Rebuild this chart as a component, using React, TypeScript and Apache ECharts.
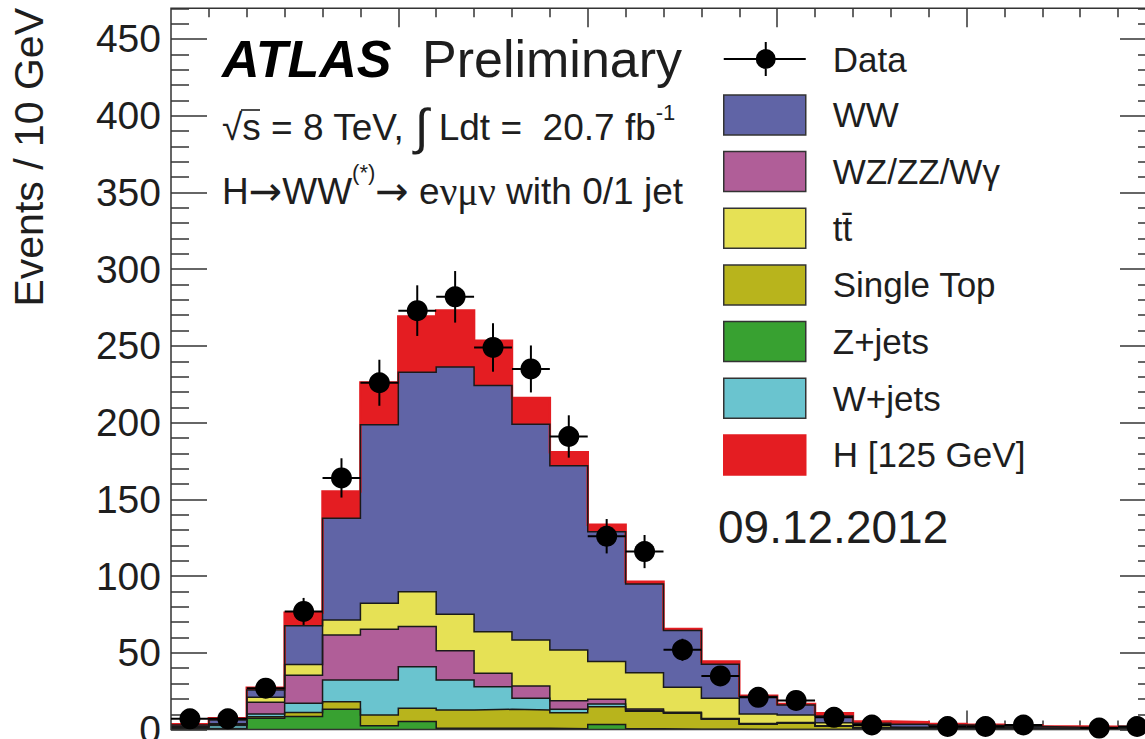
import React, { useEffect, useRef } from 'react';
import * as echarts from 'echarts';

// Bin edges in GeV (Events / 10 GeV)
const binEdges = [40, 50, 60, 70, 80, 90, 100, 110, 120, 130, 140, 150, 160, 170, 180, 190, 200, 210, 220, 230, 240, 250, 260, 270, 280, 290, 300];

// Per-bin contributions of each process (stacked bottom -> top)
const zJets = [0.5, 0.5, 7.4, 8.5, 13.3, 2.5, 5.2, 0.8, 0.8, 0.8, 0.5, 3.4, 0.5, 0.3, 0.2, 0.1, 0.1, 0.1, 0, 0, 0, 0, 0, 0, 0, 0];
const singleTop = [0.2, 0.2, 1.0, 2.6, 4.9, 7.0, 8.7, 12.0, 12.4, 12.0, 10.5, 11.5, 11.5, 10.3, 6.5, 3.4, 4.0, 2.1, 1.0, 0.6, 0.5, 0.4, 0.3, 0.2, 0.2, 0.1];
const wJets = [0.5, 1.9, 1.8, 6.0, 14.1, 22.8, 27.1, 19.5, 14.8, 7.6, 2.2, 1.8, 0.5, 0.3, 0.2, 0.2, 0.2, 0.1, 0.1, 0.1, 0.1, 0.1, 0.1, 0.1, 0.1, 0.1];
const diboson = [0.5, 0.6, 7.6, 18.3, 29.4, 33.1, 26.1, 19.1, 8.7, 8.0, 5.6, 3.1, 1.0, 0.4, 0.3, 0.3, 0.3, 0.2, 0.2, 0.2, 0.2, 0.2, 0.2, 0.1, 0.1, 0.1];
const ttbar = [0.3, 0.6, 3.3, 7.0, 9.7, 16.9, 22.8, 23.8, 27.1, 30.0, 33.1, 24.5, 23.6, 16.3, 13.2, 6.2, 4.9, 2.0, 1.3, 0.6, 0.6, 0.5, 0.4, 0.4, 0.3, 0.3];
const ww = [1.0, 2.4, 4.7, 25.3, 66.3, 116.3, 143.0, 161.0, 160.4, 140.6, 120.1, 84.7, 57.8, 37.0, 22.2, 11.3, 6.6, 4.4, 1.5, 2.0, 1.6, 1.4, 1.0, 0.8, 0.7, 0.6];
const higgs = [0.5, 1.2, 1.5, 8.5, 17.4, 27.6, 36.3, 36.9, 29.1, 17.0, 8.8, 4.4, 1.5, 1.0, 1.7, 0.6, 0.6, 1.7, 1.1, 1.3, 0.7, 0.6, 0.6, 0.4, 0.4, 0.4];

// Observed data and its error bars
const dataCounts = [7, 7, 27, 77, 164, 226, 273, 282, 249, 235, 191, 126, 116, 52, 35, 21, 19, 8, 3, 0, 2, 2, 3, 0, 1, 2];
const dataErrors = [2.6, 2.6, 5.2, 8.8, 12.8, 15.0, 16.5, 16.8, 15.8, 15.3, 13.8, 11.2, 10.8, 7.2, 5.9, 4.6, 4.4, 2.8, 1.7, 0, 1.4, 1.4, 1.7, 0, 1.0, 1.4];

// Axis ticks
const yMajorTicks = [0, 50, 100, 150, 200, 250, 300, 350, 400, 450];
const yMinorTicks = [10, 20, 30, 40, 60, 70, 80, 90, 110, 120, 130, 140, 160, 170, 180, 190, 210, 220, 230, 240, 260, 270, 280, 290, 310, 320, 330, 340, 360, 370, 380, 390, 410, 420, 430, 440, 460, 470];
const xMajorTicks = [100, 150, 200, 250];
const xMinorTicks = [50, 60, 70, 80, 90, 110, 120, 130, 140, 160, 170, 180, 190, 210, 220, 230, 240, 260, 270, 280, 290];

const FONT = "'Liberation Sans', Arial, Helvetica, sans-serif";
const SERIF = "'Liberation Serif', 'Times New Roman', serif";
const ARROW_FONT = "'DejaVu Sans', sans-serif";
const TEXT = '#1e1e1e';
const TICK = '#333';
const HIGGS_RED = '#e41d22';

const stackOrder = [
  { name: 'Z+jets', values: zJets, color: '#38a131' },
  { name: 'Single Top', values: singleTop, color: '#b8b41c' },
  { name: 'W+jets', values: wJets, color: '#6ac4cf' },
  { name: 'WZ/ZZ/W\u03b3', values: diboson, color: '#b05e98' },
  { name: 'tt\u0304', values: ttbar, color: '#e6e155' },
  { name: 'WW', values: ww, color: '#6064a6' },
  { name: 'H [125 GeV]', values: higgs, color: HIGGS_RED },
];

const legendOrder = ['Data', 'WW', 'WZ/ZZ/W\u03b3', 'tt\u0304', 'Single Top', 'Z+jets', 'W+jets', 'H [125 GeV]'];

const DATA_ICON =
  'path://M0 0M82 40M0 19H82V21H0ZM41 3H43V37H41ZM32 20A10 10 0 1 1 52 20A10 10 0 1 1 32 20Z';

function stepData(vals: number[]) {
  return binEdges.map((x, i) => [x, vals[Math.min(i, vals.length - 1)]]);
}

function buildOption() {
  let running = new Array(dataCounts.length).fill(0);
  const cumulative = stackOrder.map((c) => {
    running = running.map((r, i) => r + c.values[i]);
    return running;
  });

  const mcSeries = stackOrder
    .map((c, k) => {
      const isH = c.name === 'H [125 GeV]';
      return {
        name: c.name,
        type: 'line',
        step: 'end',
        symbol: 'none',
        showSymbol: false,
        silent: true,
        z: 2,
        data: stepData(cumulative[k]),
        lineStyle: { color: isH ? HIGGS_RED : '#1a1a1a', width: isH ? 2.5 : 1.5, join: 'miter' },
        areaStyle: { color: c.color, opacity: 1 },
        itemStyle: { color: c.color },
        emphasis: { disabled: true },
      };
    })
    .reverse();

  const centers = dataCounts.map((_, i) => (binEdges[i] + binEdges[i + 1]) / 2);
  const points = dataCounts
    .map((n, i) => [centers[i], n])
    .filter((p) => p[1] > 0);
  const errItems = dataCounts
    .map((n, i) => [centers[i], n, binEdges[i], binEdges[i + 1], dataErrors[i]])
    .filter((p) => p[1] > 0);

  const tickStyle = { color: TICK, width: 1.5 };
  const xBase = {
    type: 'value',
    min: 40,
    max: 300,
    axisLine: { show: false, onZero: false },
    axisLabel: { show: false },
    splitLine: { show: false },
  };
  const yBase = {
    type: 'value',
    min: 0,
    max: 470,
    interval: 50,
    axisLine: { show: false, onZero: false },
    splitLine: { show: false },
  };

  const legendData = legendOrder.map((name) => {
    if (name === 'Data') return { name, icon: DATA_ICON, itemStyle: { color: '#000', borderWidth: 0, opacity: 1 } };
    const c = stackOrder.find((s) => s.name === name)!;
    const isH = name === 'H [125 GeV]';
    return {
      name,
      icon: 'rect',
      itemStyle: { color: c.color, borderColor: isH ? HIGGS_RED : '#333', borderWidth: 1.5 },
    };
  });

  const txt = (x: number, y: number, style: any, extra: any = {}) => ({
    type: 'text',
    x,
    y,
    ...extra,
    style: {
      fill: TEXT,
      align: 'left',
      textAlign: 'left',
      verticalAlign: 'middle',
      textVerticalAlign: 'middle',
      ...style,
    },
  });

  return {
    animation: false,
    backgroundColor: '#fff',
    grid: {
      left: 171,
      top: 8.3,
      right: -11,
      bottom: 9.4,
      show: true,
      z: 3,
      outerBoundsMode: 'none',
      containLabel: false,
      backgroundColor: 'rgba(0,0,0,0)',
      borderColor: '#333',
      borderWidth: 1.5,
    },
    xAxis: [
      { ...xBase, position: 'bottom', axisTick: { show: true, inside: true, length: 9, customValues: xMinorTicks, lineStyle: tickStyle } },
      { ...xBase, position: 'top', axisTick: { show: true, inside: true, length: 9, customValues: xMinorTicks, lineStyle: tickStyle } },
      { ...xBase, position: 'bottom', axisTick: { show: true, inside: true, length: 19, customValues: xMajorTicks, lineStyle: tickStyle } },
      { ...xBase, position: 'top', axisTick: { show: true, inside: true, length: 19, customValues: xMajorTicks, lineStyle: tickStyle } },
    ],
    yAxis: [
      {
        ...yBase,
        position: 'left',
        axisTick: { show: true, inside: true, length: 36, customValues: yMajorTicks, lineStyle: tickStyle },
        axisLabel: {
          show: true,
          customValues: yMajorTicks,
          margin: 10,
          fontSize: 39,
          fontFamily: FONT,
          color: TEXT,
        },
      },
      { ...yBase, position: 'right', axisLabel: { show: false }, axisTick: { show: true, inside: true, length: 36, customValues: yMajorTicks, lineStyle: tickStyle } },
      { ...yBase, position: 'left', axisLabel: { show: false }, axisTick: { show: true, inside: true, length: 18, customValues: yMinorTicks, lineStyle: tickStyle } },
      { ...yBase, position: 'right', axisLabel: { show: false }, axisTick: { show: true, inside: true, length: 18, customValues: yMinorTicks, lineStyle: tickStyle } },
    ],
    legend: {
      orient: 'vertical',
      left: 723,
      top: 39,
      itemWidth: 82,
      itemHeight: 40,
      itemGap: 15.17,
      selectedMode: false,
      padding: 0,
      textStyle: { fontSize: 35, color: TEXT, fontFamily: FONT, padding: [0, 0, 0, 22] },
      data: legendData,
    },
    series: [
      ...mcSeries,
      {
        name: 'Data errors',
        type: 'custom',
        z: 5,
        silent: true,
        encode: { x: 0, y: 1 },
        data: errItems,
        renderItem: (params: any, api: any) => {
          const xc = api.value(0);
          const y = api.value(1);
          const x0 = api.value(2);
          const x1 = api.value(3);
          const e = api.value(4);
          const pL = api.coord([x0, y]);
          const pR = api.coord([x1, y]);
          const pT = api.coord([xc, y + e]);
          const pB = api.coord([xc, Math.max(0, y - e)]);
          return {
            type: 'group',
            children: [
              { type: 'line', shape: { x1: pL[0], y1: pL[1], x2: pR[0], y2: pR[1] }, style: { stroke: '#000', lineWidth: 2 } },
              { type: 'line', shape: { x1: pT[0], y1: pT[1], x2: pB[0], y2: pB[1] }, style: { stroke: '#000', lineWidth: 2 } },
            ],
          };
        },
      },
      {
        name: 'Data',
        type: 'scatter',
        z: 6,
        silent: true,
        symbol: 'circle',
        symbolSize: 21,
        itemStyle: { color: '#000', opacity: 1 },
        data: points,
      },
    ],
    graphic: [
      txt(29, 8, { text: 'Events / 10 GeV', fontSize: 41, fontFamily: FONT, align: 'right', textAlign: 'right' }, { rotation: Math.PI / 2 }),
      txt(222, 58.5, { text: 'ATLAS', fontSize: 52, fontWeight: 'bold', fontStyle: 'italic', fontFamily: FONT, fill: '#000' }),
      txt(422, 58.5, { text: 'Preliminary', fontSize: 52, fontFamily: FONT }),
      txt(222, 127, {
        text: '{a|\u221as = 8 TeV, }{i|\u222b}{a| Ldt =  20.7 fb}{s|-1}',
        rich: {
          a: { fontSize: 37, fontFamily: FONT, lineHeight: 52, fill: TEXT },
          i: { fontSize: 50, fontFamily: FONT, lineHeight: 52, fill: TEXT },
          s: { fontSize: 22, fontFamily: FONT, lineHeight: 22, verticalAlign: 'top', fill: TEXT },
        },
      }),
      {
        type: 'line',
        shape: { x1: 241, y1: 110, x2: 260, y2: 110 },
        style: { stroke: TEXT, lineWidth: 1.6 },
      },
      txt(222, 191, {
        text: '{a|H}{r|\u2192}{a|WW}{s|(*)}{r|\u2192}{a| e}{g|\u03bd\u03bc\u03bd}{a| with 0/1 jet}',
        rich: {
          a: { fontSize: 37, fontFamily: FONT, lineHeight: 60, fill: TEXT },
          r: { fontSize: 40, fontFamily: ARROW_FONT, lineHeight: 60, fill: TEXT },
          g: { fontSize: 39, fontFamily: SERIF, lineHeight: 60, fill: TEXT },
          s: { fontSize: 22, fontFamily: FONT, lineHeight: 22, verticalAlign: 'top', fill: TEXT },
        },
      }),
      txt(718, 527, { text: '09.12.2012', fontSize: 46, fontFamily: FONT }),
    ],
  };
}

export default function App() {
  const ref = useRef<HTMLDivElement>(null);
  useEffect(() => {
    if (!ref.current) return;
    const chart = echarts.init(ref.current, null, { renderer: 'svg' });
    chart.setOption(buildOption() as any);
    return () => chart.dispose();
  }, []);
  return (
    <div
      ref={ref}
      style={{ position: 'fixed', left: 0, top: 0, width: 1145, height: 739, background: '#fff' }}
    />
  );
}
